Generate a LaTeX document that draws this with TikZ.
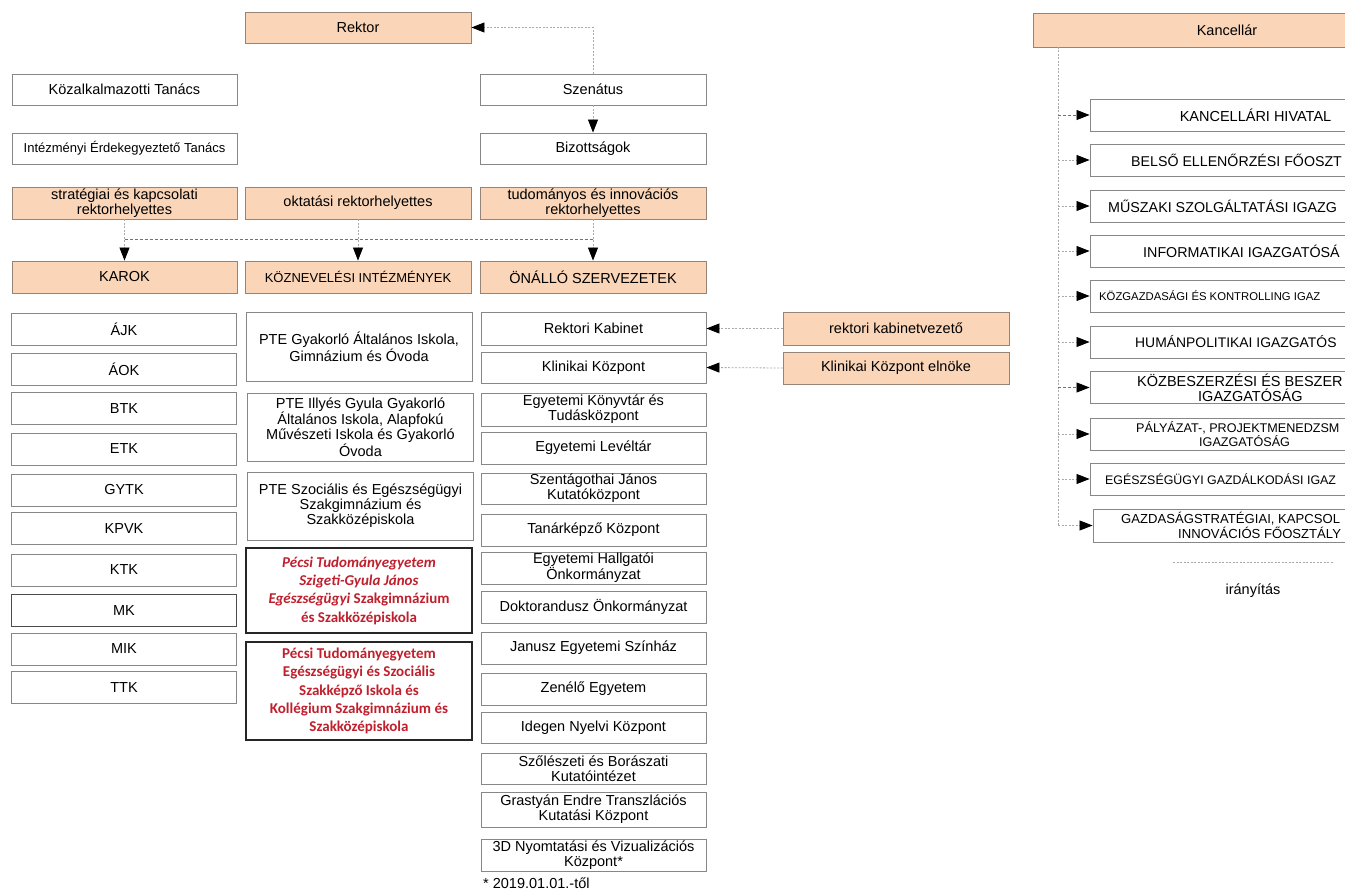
\documentclass[tikz,border=0pt]{standalone}
\usepackage{fontspec}
\setmainfont{Liberation Sans}
\newfontfamily\calib{Carlito}
\usetikzlibrary{arrows.meta}
\definecolor{peach}{RGB}{250,213,184}
\definecolor{bgray}{RGB}{135,135,135}
\definecolor{ogray}{RGB}{150,132,120}
\definecolor{lgray}{RGB}{170,170,170}
\definecolor{pred}{RGB}{192,32,45}
\begin{document}
\begin{tikzpicture}[x=1pt,y=-1pt,
  base/.style={draw=bgray, line width=0.9pt, align=center, inner sep=0pt,
    font=\fontsize{14.5}{15}\selectfont, minimum height=32pt},
  wbox/.style={base, fill=white},
  obox/.style={base, fill=peach, draw=ogray},
  rbox/.style={draw=black!85, line width=1.6pt, fill=white, align=center, inner sep=0pt,
    text=pred, font=\calib\bfseries\fontsize{15}{18.3}\selectfont},
  cL/.style={minimum width=225pt},
  cM/.style={minimum width=226pt},
  cR/.style={minimum width=225pt},
  cK/.style={minimum width=331pt},
  small/.style={font=\fontsize{13}{14}\selectfont},
  ktxt/.style={anchor=west, inner sep=0pt, align=left},
  fs/.style={font=\fontsize{#1}{15}\selectfont},
  conn/.style={draw=lgray, line width=0.8pt, dash pattern=on 2pt off 1.5pt},
  dconn/.style={draw=black!55, line width=0.8pt, dash pattern=on 3pt off 2pt},
  arr/.style={-{Triangle[length=13pt,width=10pt,color=black]}}
]
\useasboundingbox (0,0) rectangle (1345,891);
\clip (0,0) rectangle (1345,891);
\fill[white] (0,0) rectangle (1345,891);

% ---------- top ----------
\node[obox, cM, minimum height=31pt] (rektor) at (358,27.5) {Rektor};
\node[wbox, cL, minimum height=31pt] (kozalk) at (124.5,89.5) {Közalkalmazotti Tanács};
\node[wbox, cM, minimum height=31pt] (szen) at (593,89.5) {Szenátus};
\node[wbox, cL, minimum height=31pt, small] (iet) at (124.5,148.5) {Intézményi Érdekegyeztető Tanács};
\node[wbox, cM, minimum height=31pt] (biz) at (593,148.5) {Bizottságok};
\node[obox, cL] (strat) at (124.5,203) {stratégiai és kapcsolati\\rektorhelyettes};
\node[obox, cM] (okt) at (358,203) {oktatási rektorhelyettes};
\node[obox, cM] (tud) at (593,203) {tudományos és innovációs\\rektorhelyettes};
\node[obox, cL] (karok) at (124.5,277) {KAROK};
\node[obox, cM, small] (kozn) at (358,277) {KÖZNEVELÉSI INTÉZMÉNYEK};
\node[obox, cM] (onallo) at (593,277) {ÖNÁLLÓ SZERVEZETEK};

\coordinate (hb) at (0,239);
\draw[conn, arr] (szen.north) |- (rektor.east);
\draw[conn, arr] (szen.south) -- (biz.north);
\draw[dconn] (strat.south |- hb) -- (tud.south |- hb);
\draw[conn, arr] (strat.south) -- (karok.north);
\draw[conn, arr] (okt.south) -- (kozn.north);
\draw[conn, arr] (tud.south) -- (onallo.north);

% ---------- left column ----------
\node[wbox, cL] (ajk) at (124,329) {ÁJK};
\node[wbox, cL] (aok) at (124,369.5) {ÁOK};
\node[wbox, cL] (btk) at (124,408.5) {BTK};
\node[wbox, cL] (etk) at (124,449) {ETK};
\node[wbox, cL] (gytk) at (124,490) {GYTK};
\node[wbox, cL] (kpvk) at (124,528.5) {KPVK};
\node[wbox, cL] (ktk) at (124,570) {KTK};
\node[wbox, cL, draw=black!70] (mk) at (124,610.5) {MK};
\node[wbox, cL] (mik) at (124,649) {MIK};
\node[wbox, cL] (ttk) at (124,687.5) {TTK};

% ---------- middle column ----------
\node[wbox, cM, minimum height=69pt] (gyak) at (359,346.5) {PTE Gyakorló Általános Iskola,\\Gimnázium és Óvoda};
\node[wbox, cM, minimum height=68pt] (illyes) at (360.5,427) {PTE Illyés Gyula Gyakorló\\Általános Iskola, Alapfokú\\Művészeti Iskola és Gyakorló\\Óvoda};
\node[wbox, cM, minimum height=68pt] (szoc) at (360.5,506) {PTE Szociális és Egészségügyi\\Szakgimnázium és\\Szakközépiskola};
\node[rbox, cM, minimum height=85pt] (szig) at (359,590.5) {{\itshape Pécsi Tudományegyetem}\\{\itshape Szigeti-Gyula János}\\{\itshape Egészségügyi} Szakgimnázium\\és Szakközépiskola};
\node[rbox, cM, minimum height=98pt] (eusz) at (359,691) {Pécsi Tudományegyetem\\Egészségügyi és Szociális\\Szakképző Iskola és\\Kollégium Szakgimnázium és\\Szakközépiskola};

% ---------- right column ----------
\node[wbox, cR, minimum height=33pt] (rkab) at (593.5,328.5) {Rektori Kabinet};
\node[wbox, cR, minimum height=31pt] (klin) at (593.5,367.5) {Klinikai Központ};
\node[wbox, cR, minimum height=33pt] (konyv) at (593.5,409.5) {Egyetemi Könyvtár és\\Tudásközpont};
\node[wbox, cR] (level) at (593.5,448) {Egyetemi Levéltár};
\node[wbox, cR, minimum height=31pt] (szent) at (593.5,488.5) {Szentágothai János\\Kutatóközpont};
\node[wbox, cR] (tanar) at (593.5,530) {Tanárképző Központ};
\node[wbox, cR] (hallg) at (593.5,568) {Egyetemi Hallgatói\\Önkormányzat};
\node[wbox, cR] (dokt) at (593.5,607) {Doktorandusz Önkormányzat};
\node[wbox, cR] (janus) at (593.5,648) {Janusz Egyetemi Színház};
\node[wbox, cR] (zene) at (593.5,689) {Zenélő Egyetem};
\node[wbox, cR, minimum height=31pt] (idegen) at (593.5,727.5) {Idegen Nyelvi Központ};
\node[wbox, cR, minimum height=31pt] (szol) at (593.5,768.5) {Szőlészeti és Borászati\\Kutatóintézet};
\node[wbox, cR, minimum height=35pt] (grast) at (593.5,809.5) {Grastyán Endre Transzlációs\\Kutatási Központ};
\node[wbox, cR] (nyomt) at (593.5,855) {3D Nyomtatási és Vizualizációs\\Központ*};
\node[anchor=west, inner sep=0pt, font=\fontsize{14.5}{15}\selectfont] (foot) at (483,883) {* 2019.01.01.-től};

\node[obox, cM, minimum height=33pt] (rkv) at (896,328.5) {rektori kabinetvezető};
\node[obox, cM] (kke) at (896,368) {Klinikai Központ elnöke};
\draw[conn, arr] (rkv.west) -- (rkab.east);
\draw[conn, arr] (kke.west) -- (klin.east);

% ---------- Kancellár ----------
\node[obox, minimum width=388pt, minimum height=34pt] (kanc) at (1227,30) {};
\node[font=\fontsize{14.5}{15}\selectfont, inner sep=0pt] (kanct) at (1227,30) {Kancellár};
\node[wbox, cK] (hiv) at (1255.5,115) {};
\node[wbox, cK] (belso) at (1255.5,160) {};
\node[wbox, cK] (musz) at (1255.5,206) {};
\node[wbox, cK] (info) at (1255.5,251) {};
\node[wbox, cK] (kozg) at (1255.5,296) {};
\node[wbox, cK] (human) at (1255.5,342) {};
\node[wbox, cK] (kozb) at (1255.5,387.5) {};
\node[wbox, cK] (palyaz) at (1255.5,434) {};
\node[wbox, cK] (egesz) at (1255.5,479) {};
\node[wbox, minimum width=330pt, minimum height=33pt] (gstr) at (1258,525.5) {};

\node[font=\fontsize{14.5}{15}\selectfont, inner sep=0pt] (hivt) at (1255.5,115) {KANCELLÁRI HIVATAL};
\node[ktxt, fs=14.2] (belsot) at (1131,160) {BELSŐ ELLENŐRZÉSI FŐOSZT};
\node[ktxt, fs=14.3] (muszt) at (1108,206) {MŰSZAKI SZOLGÁLTATÁSI IGAZG};
\node[ktxt, fs=14.3] (infot) at (1143,251) {INFORMATIKAI IGAZGATÓSÁ};
\node[ktxt, fs=11.3] (kozgt) at (1099,296) {KÖZGAZDASÁGI ÉS KONTROLLING IGAZ};
\node[ktxt, fs=13.9] (humant) at (1135,342) {HUMÁNPOLITIKAI IGAZGATÓS};
\node[ktxt, font=\fontsize{14.5}{15}\selectfont] (kozbt) at (1137,387.5) {KÖZBESZERZÉSI ÉS BESZER\\\hspace*{61pt}IGAZGATÓSÁG};
\node[ktxt, font=\fontsize{12.6}{14}\selectfont] (palyazt) at (1136,434) {PÁLYÁZAT-, PROJEKTMENEDZSM\\\hspace*{63pt}IGAZGATÓSÁG};
\node[ktxt, fs=12.4] (egeszt) at (1105,479) {EGÉSZSÉGÜGYI GAZDÁLKODÁSI IGAZ};
\node[ktxt, font=\fontsize{13.1}{14.5}\selectfont] (gstrt) at (1121,525.5) {GAZDASÁGSTRATÉGIAI, KAPCSOL\\\hspace*{57pt}INNOVÁCIÓS FŐOSZTÁLY};

\coordinate (trunk) at (1058,47);
\draw[conn] (trunk) -- (trunk |- gstr.west);
\draw[dconn, arr] (trunk |- hiv.west) -- (hiv.west);
\draw[conn, arr] (trunk |- belso.west) -- (belso.west);
\draw[conn, arr] (trunk |- musz.west) -- (musz.west);
\draw[conn, arr] (trunk |- info.west) -- (info.west);
\draw[conn, arr] (trunk |- kozg.west) -- (kozg.west);
\draw[conn, arr] (trunk |- human.west) -- (human.west);
\draw[dconn, arr] (trunk |- kozb.west) -- (kozb.west);
\draw[conn, arr] (trunk |- palyaz.west) -- (palyaz.west);
\draw[conn, arr] (trunk |- egesz.west) -- (egesz.west);
\draw[conn, arr] (trunk |- gstr.west) -- (gstr.west);

% ---------- legend ----------
\coordinate (lgA) at (1173,562);
\coordinate (lgB) at (1333,562);
\draw[conn] (lgA) -- (lgB);
\node[font=\fontsize{14.5}{15}\selectfont] (lgtxt) at (1253,591) {irányítás};
\end{tikzpicture}
\end{document}
